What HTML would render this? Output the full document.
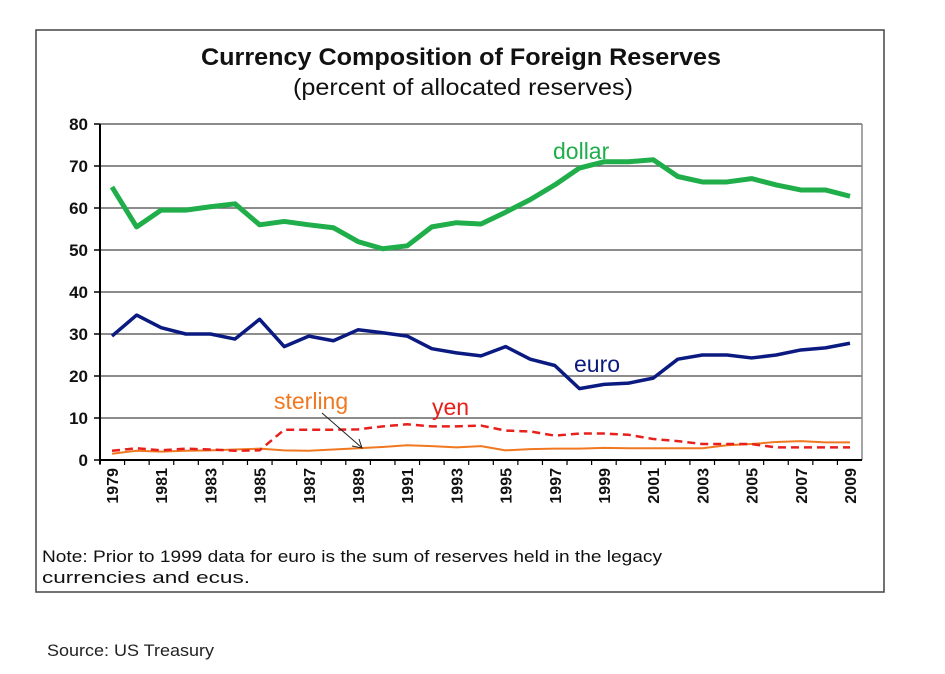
<!DOCTYPE html>
<html><head><meta charset="utf-8"><style>
body{margin:0;background:#fff;width:945px;height:674px;overflow:hidden;font-family:"Liberation Sans",sans-serif}
</style></head><body>
<svg width="945" height="674" style="position:absolute;left:0;top:0">
<rect x="36" y="30" width="848" height="562" fill="#fff" stroke="#444" stroke-width="1.5"/>
<text x="201" y="65" textLength="520" lengthAdjust="spacingAndGlyphs" font-size="24" font-weight="bold" fill="#111">Currency Composition of Foreign Reserves</text>
<text x="293" y="95" textLength="340" lengthAdjust="spacingAndGlyphs" font-size="23" fill="#111">(percent of allocated reserves)</text>
<g id="grid"></g><g id="series"></g><g id="labels"></g>
<text x="42" y="562" textLength="620" lengthAdjust="spacingAndGlyphs" font-size="17" fill="#111">Note:  Prior to 1999 data for euro is the sum of reserves held in the legacy</text>
<text x="42" y="583" textLength="208" lengthAdjust="spacingAndGlyphs" font-size="17" fill="#111">currencies and  ecus.</text>
<text x="47" y="656" textLength="167" lengthAdjust="spacingAndGlyphs" font-size="17" fill="#222">Source: US Treasury</text>
</svg>
<script>
const years=[1979,1980,1981,1982,1983,1984,1985,1986,1987,1988,1989,1990,1991,1992,1993,1994,1995,1996,1997,1998,1999,2000,2001,2002,2003,2004,2005,2006,2007,2008,2009];
const dollar=[65,55.5,59.5,59.5,60.3,61,56,56.8,56,55.3,52,50.3,51,55.5,56.5,56.2,59,62,65.5,69.5,71,71,71.5,67.5,66.2,66.2,67,65.5,64.3,64.3,62.8];
const euro=[29.5,34.5,31.5,30,30,28.8,33.5,27,29.5,28.4,31,30.3,29.5,26.5,25.5,24.8,27,24,22.5,17,18,18.3,19.5,24,25,25,24.3,25,26.2,26.7,27.8];
const sterling=[1.5,2.2,2,2.2,2.3,2.5,2.7,2.3,2.2,2.5,2.8,3.1,3.5,3.3,3,3.3,2.3,2.6,2.7,2.7,2.9,2.8,2.8,2.8,2.8,3.5,3.8,4.3,4.5,4.2,4.2];
const yen=[2.2,2.8,2.3,2.7,2.5,2.2,2.3,7.2,7.2,7.2,7.3,8,8.5,8,8,8.2,7,6.8,5.8,6.3,6.3,6,5,4.5,3.8,3.8,3.8,3,3,3,3];
const yTicks=[0,10,20,30,40,50,60,70,80];
const NS="http://www.w3.org/2000/svg";
const L=100,R=862,T=124,B=460;
const x=i=>L+12+(i)*(R-L-24)/(years.length-1);
const y=v=>B-(v/80)*(B-T);
function mk(tag,attrs,parent){const e=document.createElementNS(NS,tag);for(const k in attrs)e.setAttribute(k,attrs[k]);parent.appendChild(e);return e;}
const grid=document.getElementById('grid'),ser=document.getElementById('series'),lab=document.getElementById('labels');
yTicks.forEach(v=>{
 const g=mk('line',{x1:L,x2:R,y1:y(v),y2:y(v),stroke:'#666','stroke-width':1.5},grid);
 
 
 const tk=mk('line',{x1:L-6,x2:L,y1:y(v),y2:y(v),stroke:'#000','stroke-width':1.5},grid);
 
 
 const t=mk('text',{x:L-12,y:y(v)+6,'text-anchor':'end','font-size':17,'font-weight':'bold',fill:'#111'},lab);
 t.textContent=v;
 
 
});
const ax=mk('line',{x1:L,x2:L,y1:T,y2:B+4,stroke:'#000','stroke-width':2},grid);


const rb=mk('line',{x1:R,x2:R,y1:T,y2:B,stroke:'#888','stroke-width':1.5},grid);


const xa=mk('line',{x1:L,x2:R,y1:B,y2:B,stroke:'#000','stroke-width':2},grid);


years.forEach((yr,i)=>{
 const bx=L+i*(R-L)/(years.length);
 const tk=mk('line',{x1:bx,x2:bx,y1:B,y2:B+5,stroke:'#000','stroke-width':1.2},grid);
 
 
 if(i%2===0){
  const t=mk('text',{transform:`translate(${x(i)+6},${B+8}) rotate(-90)`,'text-anchor':'end','font-size':16,'font-weight':'bold',fill:'#111'},lab);
  t.textContent=yr;
  
  
 }
});
function line(data,color,w,name,dash){
 const p=mk('polyline',{points:data.map((v,i)=>x(i)+','+y(v)).join(' '),fill:'none',stroke:color,'stroke-width':w,'stroke-linejoin':'round'},ser);
 if(dash)p.setAttribute('stroke-dasharray',dash);
 
 
}
line(sterling,'#f07820',2,'sterling-line');
line(yen,'#e8201c',2.5,'yen-line','8,5');
line(euro,'#0b1a80',3.5,'euro-line');
line(dollar,'#1fae4a',5,'dollar-line');
function label(txt,lx,ly,color,name){const t=mk('text',{x:lx,y:ly,'font-size':23,fill:color},lab);t.textContent=txt;}
label('dollar',553,159,'#1fae4a','dollar-label');
label('euro',574,372,'#0b1a80','euro-label');
label('sterling',274,409,'#f07820','sterling-label');
label('yen',432,415,'#e8201c','yen-label');
const ar=mk('line',{x1:322,y1:413,x2:361,y2:447,stroke:'#222','stroke-width':1},lab);


const ah=mk('polyline',{points:'352,446 362,448 359,439',fill:'none',stroke:'#222','stroke-width':1},lab);


</script>
</body></html>
